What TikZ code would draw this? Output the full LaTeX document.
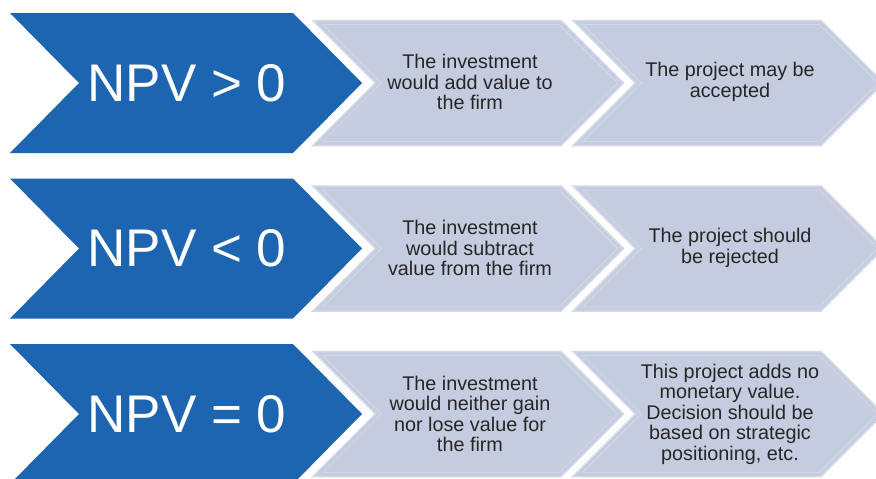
\documentclass[tikz,border=0pt]{standalone}
\usepackage{fontspec}
\setmainfont{Liberation Sans}
\definecolor{npvblue}{HTML}{1D65B0}
\definecolor{stepgrey}{HTML}{C5CCDF}
\definecolor{stepline}{HTML}{D3D9E8}
\definecolor{txtgrey}{HTML}{262626}

\begin{document}
\begin{tikzpicture}[x=1pt,y=-1pt,
  bigtxt/.style={text=white,inner sep=0pt,font=\fontsize{53}{60}\selectfont},
  smalltxt/.style={text=txtgrey,align=center,inner sep=0pt,font=\fontsize{19.8}{20.5}\selectfont},
  stepbox/.style={fill=stepgrey,draw=stepline,line width=1.5pt,line join=miter},
  stepedge/.style={draw=stepline,line width=0.8pt}]
\clip (0,0) rectangle (876,479);
\fill[white] (0,0) rectangle (876,479);
\foreach \r/\yc in {1/83,2/248.5,3/414}{
  \fill[npvblue] (10,\yc-70) -- (293,\yc-70) -- (362,\yc) -- (293,\yc+70) -- (10,\yc+70) -- (79,\yc) -- cycle;
  \foreach \xl in {313,573}{
    \path[stepbox] (\xl,\yc-62.5) -- (\xl+248,\yc-62.5) -- (\xl+310.5,\yc) -- (\xl+248,\yc+62.5) -- (\xl,\yc+62.5) -- (\xl+62.5,\yc) -- cycle;
    \path[stepedge] (\xl+9.7,\yc-58.5) -- (\xl+246.3,\yc-58.5) -- (\xl+304.8,\yc) -- (\xl+246.3,\yc+58.5) -- (\xl+9.7,\yc+58.5) -- (\xl+68.2,\yc) -- cycle;
  }
}
\foreach \r/\yc/\sign in {1/83/>,2/248.5/<,3/414/=}{\node[bigtxt] (npv\r) at (187,\yc) {NPV \sign{} 0};}
\foreach \r/\yc/\txt in {1/82/{The investment\\would add value to\\the firm},
                         2/248/{The investment\\would subtract\\value from the firm},
                         3/414/{The investment\\would neither gain\\nor lose value for\\the firm}}{\node[smalltxt] (eff\r) at (470,\yc) {\txt};}
\foreach \r/\yc/\txt in {1/82/{The project may be\\accepted},
                         2/248/{The project should\\be rejected},
                         3/414/{This project adds no\\monetary value.\\Decision should be\\based on strategic\\positioning, etc.}}{\node[smalltxt] (dec\r) at (730,\yc) {\txt};}
\end{tikzpicture}
\end{document}
